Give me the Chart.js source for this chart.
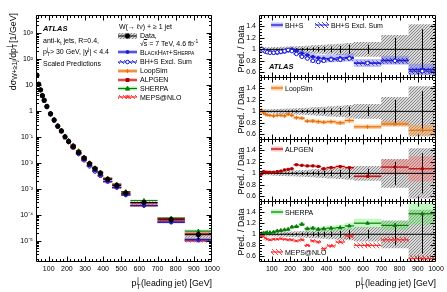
<!DOCTYPE html>
<html>
<head>
<meta charset="utf-8">
<script src="https://cdn.jsdelivr.net/npm/chart.js@4.4.1/dist/chart.umd.min.js"></script>
<style>
  html, body { margin: 0; padding: 0; background: #fff; }
  body { position: relative; width: 447px; height: 292px; overflow: hidden;
         font-family: "Liberation Sans", Arial, Helvetica, sans-serif; font-size: 7px; color: #000; }
  canvas { position: absolute; }
  .t { position: absolute; white-space: nowrap; line-height: 1; }
  .t sub, .t sup { font-size: 70%; line-height: 0; }
  .ttl { font-size: 8.8px; }
  .ttl sub, .ttl sup { font-size: 78%; }
  .vt { writing-mode: vertical-rl; transform: translate(-50%, -50%) rotate(180deg); }
  .atlas { font-weight: bold; font-style: italic; font-size: 7.5px; }
</style>
</head>
<body>
<canvas id="mainChart" width="220" height="292" style="left:0;top:0"></canvas>
<canvas id="ratio1" width="227" height="78" style="left:220px;top:0"></canvas>
<canvas id="ratio2" width="227" height="63" style="left:220px;top:77px"></canvas>
<canvas id="ratio3" width="227" height="63" style="left:220px;top:139px"></canvas>
<canvas id="ratio4" width="227" height="92" style="left:220px;top:201px"></canvas>

<!-- main panel texts -->
<div class="t atlas" style="left:43px;top:25px">ATLAS</div>
<div class="t" style="left:43px;top:37px">anti-k<sub>t</sub> jets, R=0.4,</div>
<div class="t" style="left:43px;top:48px">p<sub>T</sub><sup style="margin-left:-3px">j</sup> &gt; 30 GeV, |y<sup>j</sup>| &lt; 4.4</div>
<div class="t" style="left:43px;top:59.5px">Scaled Predictions</div>
<div class="t" style="left:119px;top:22.5px">W(→ ℓν) + ≥ 1 jet</div>
<div class="t" style="left:140px;top:31.5px">Data,</div>
<div class="t" style="left:140px;top:39.5px">√<span style="text-decoration:overline">s</span> = 7 TeV, 4.6 fb<sup>-1</sup></div>
<div class="t" style="left:140px;top:48.5px;font-variant:small-caps">BlackHat+Sherpa</div>
<div class="t" style="left:140px;top:58px">BH+S Excl. Sum</div>
<div class="t" style="left:140px;top:67px">LoopSim</div>
<div class="t" style="left:140px;top:76px">ALPGEN</div>
<div class="t" style="left:140px;top:85px">SHERPA</div>
<div class="t" style="left:140px;top:93.5px">MEPS@NLO</div>
<div class="t ttl" style="left:13px;top:13px;writing-mode:vertical-rl;transform:translateX(-50%) rotate(180deg)">dσ<sub>W+≥1j</sub>/dp<sub>T</sub><sup style="margin-top:-3px">j</sup> [1/GeV]</div>
<div class="t ttl" style="right:235px;top:279px">p<sub>T</sub><sup style="margin-left:-3.5px">j</sup> (leading jet) [GeV]</div>

<!-- ratio panel texts -->
<div class="t" style="left:285px;top:21.5px">BH+S</div>
<div class="t" style="left:331px;top:21.5px">BH+S Excl. Sum</div>
<div class="t atlas" style="left:269px;top:63px">ATLAS</div>
<div class="t" style="left:285px;top:84.5px">LoopSim</div>
<div class="t" style="left:285px;top:145.5px">ALPGEN</div>
<div class="t" style="left:285px;top:208.5px">SHERPA</div>
<div class="t" style="left:285px;top:248.5px">MEPS@NLO</div>
<div class="t ttl vt" style="left:240.5px;top:49px">Pred. / Data</div>
<div class="t ttl vt" style="left:240.5px;top:110px">Pred. / Data</div>
<div class="t ttl vt" style="left:240.5px;top:171px">Pred. / Data</div>
<div class="t ttl vt" style="left:240.5px;top:232px">Pred. / Data</div>
<div class="t ttl" style="right:11px;top:279px">p<sub>T</sub><sup style="margin-left:-3.5px">j</sup> (leading jet) [GeV]</div>

<script>
/* W + >= 1 jet, leading jet pT: cross section and ratios to data */

const FONT = '"Liberation Sans", Arial, Helvetica, sans-serif';
Chart.defaults.font.family = FONT;
Chart.defaults.font.size = 7;
Chart.defaults.color = "#000";

// bins and measured values
const binEdges = [30, 40, 50, 60, 70, 80, 100, 120, 140, 160, 180, 200, 220, 250, 280, 310, 340, 370, 400, 450, 500, 550, 700, 850, 1000];
const dataXsec = [24, 10.7, 6.5, 3.9, 2.6, 1.5, 0.78, 0.45, 0.26, 0.17, 0.10, 0.066, 0.042, 0.025, 0.015, 0.0091, 0.0059, 0.0040, 0.0023, 0.00134, 0.00068, 0.000295, 0.000064, 0.000017];
const dataStat = [0.003, 0.003, 0.004, 0.004, 0.005, 0.005, 0.006, 0.008, 0.01, 0.012, 0.015, 0.018, 0.02, 0.025, 0.03, 0.035, 0.04, 0.045, 0.05, 0.06, 0.08, 0.08, 0.2, 0.35];
const dataSyst = [0.04, 0.035, 0.035, 0.035, 0.035, 0.035, 0.04, 0.04, 0.045, 0.045, 0.05, 0.05, 0.055, 0.06, 0.065, 0.07, 0.075, 0.08, 0.09, 0.10, 0.11, 0.13, 0.25, 0.44];

// prediction / data
const ratioBHS = [1.00, 1.01, 0.99, 0.97, 0.96, 0.95, 0.94, 0.94, 0.95, 0.96, 0.98, 1.00, 0.97, 0.93, 0.90, 0.87, 0.85, 0.84, 0.84, 0.85, 0.86, 0.76, 0.81, 0.65];
const errBHS = [0.03, 0.03, 0.03, 0.03, 0.03, 0.035, 0.035, 0.04, 0.04, 0.04, 0.045, 0.05, 0.05, 0.05, 0.055, 0.06, 0.06, 0.065, 0.065, 0.07, 0.07, 0.07, 0.08, 0.1];
const ratioExcl = [1.00, 1.01, 0.98, 0.96, 0.95, 0.94, 0.94, 0.95, 0.96, 0.97, 0.99, 0.97, 0.92, 0.87, 0.84, 0.80, 0.78, 0.80, 0.82, 0.82, 0.84, 0.76, 0.80, 0.62];
const errExcl = [0.015, 0.015, 0.015, 0.015, 0.015, 0.02, 0.02, 0.02, 0.02, 0.02, 0.025, 0.025, 0.025, 0.03, 0.03, 0.03, 0.03, 0.035, 0.035, 0.035, 0.04, 0.045, 0.05, 0.06];
const ratioLoopSim = [1.00, 1.02, 0.97, 0.95, 0.94, 0.93, 0.92, 0.93, 0.93, 0.92, 0.95, 0.93, 0.89, 0.88, 0.83, 0.83, 0.82, 0.81, 0.82, 0.80, 0.84, 0.73, 0.78, 0.67];
const errLoopSim = [0.02, 0.02, 0.02, 0.02, 0.02, 0.02, 0.025, 0.025, 0.025, 0.025, 0.03, 0.03, 0.03, 0.03, 0.03, 0.035, 0.035, 0.035, 0.035, 0.04, 0.04, 0.04, 0.05, 0.09];
const ratioAlpgen = [0.96, 0.99, 1.03, 1.02, 1.02, 1.02, 1.02, 1.03, 1.04, 1.06, 1.07, 1.08, 1.15, 1.14, 1.13, 1.13, 1.12, 1.08, 1.10, 1.12, 1.10, 0.95, 1.11, 1.08];
const errAlpgen = [0.02, 0.02, 0.02, 0.02, 0.02, 0.02, 0.02, 0.02, 0.02, 0.02, 0.02, 0.02, 0.02, 0.02, 0.025, 0.025, 0.025, 0.03, 0.03, 0.03, 0.03, 0.03, 0.13, 0.22];
const ratioSherpa = [0.98, 1.01, 1.02, 1.02, 1.03, 1.03, 1.04, 1.06, 1.07, 1.08, 1.09, 1.13, 1.14, 1.18, 1.10, 1.11, 1.09, 1.10, 1.11, 1.12, 1.15, 1.20, 1.16, 1.37];
const errSherpa = [0.02, 0.02, 0.02, 0.02, 0.02, 0.02, 0.02, 0.025, 0.025, 0.025, 0.03, 0.03, 0.03, 0.035, 0.035, 0.04, 0.04, 0.045, 0.05, 0.05, 0.06, 0.08, 0.08, 0.2];
const ratioMeps = [0.97, 0.97, 0.96, 0.93, 0.91, 0.90, 0.91, 0.91, 0.92, 0.91, 0.90, 0.90, 0.88, 0.90, 0.80, 0.88, 0.86, 0.74, 0.79, 0.86, 0.97, 0.80, 0.90, 0.56];
const errMeps = [0.02, 0.02, 0.02, 0.02, 0.02, 0.02, 0.02, 0.02, 0.02, 0.02, 0.025, 0.025, 0.025, 0.03, 0.03, 0.03, 0.03, 0.035, 0.035, 0.04, 0.05, 0.05, 0.05, 0.06];

// axis ticks
const xTickValues = [100, 200, 300, 400, 500, 600, 700, 800, 900, 1000];
const yLogTicks = [1e-5, 1e-4, 1e-3, 1e-2, 1e-1, 1, 10, 100, 1000];
const yLogLabels = ["10⁻⁵", "10⁻⁴", "10⁻³", "10⁻²", "10⁻¹", "1", "10", "10²", "10³"];
const ratioTicks = [0.6, 0.8, 1, 1.2, 1.4];

const centers = binEdges.slice(0, -1).map((e, i) => (e + binEdges[i + 1]) / 2);

function hatch(line, bg, down, size) {
  const s = size || 4;
  const c = document.createElement("canvas");
  c.width = s; c.height = s;
  const g = c.getContext("2d");
  if (bg) { g.fillStyle = bg; g.fillRect(0, 0, s, s); }
  g.strokeStyle = line; g.lineWidth = 0.9;
  g.beginPath();
  if (down) {
    g.moveTo(-1, -1); g.lineTo(s + 1, s + 1);
    g.moveTo(-1, s - 1); g.lineTo(1, s + 1);
    g.moveTo(s - 1, -1); g.lineTo(s + 1, 1);
  } else {
    g.moveTo(-1, s + 1); g.lineTo(s + 1, -1);
    g.moveTo(-1, 1); g.lineTo(1, -1);
    g.moveTo(s - 1, s + 1); g.lineTo(s + 1, s - 1);
  }
  g.stroke();
  return g.createPattern(c, "repeat");
}

const colors = {
  data: "#000",
  bhs: "#1a1ad0", bhsBand: "rgba(120,120,255,0.45)",
  loop: "#e0700e", loopBand: "rgba(255,160,70,0.5)",
  alp: "#b00000", alpBand: "rgba(255,110,110,0.4)",
  sh: "#0b7a0b", shBand: "rgba(90,240,90,0.38)",
  meps: "#ff2424"
};
const grayHatch = hatch("rgba(110,110,110,0.85)", "rgba(205,205,205,0.75)", false, 3);
const exclHatch = hatch("rgba(30,30,210,0.9)", null, true, 4);
const mepsHatch = hatch("rgba(255,30,30,0.9)", null, true, 4);

const preds = {
  bhs:  { ratio: ratioBHS, err: errBHS, color: colors.bhs, fill: colors.bhs, style: "circle", radius: 1.5, band: colors.bhsBand, lw: 1.3 },
  excl: { ratio: ratioExcl, err: errExcl, color: colors.bhs, fill: "#fff", style: "circle", radius: 1.8, band: exclHatch, lw: 1 },
  loop: { ratio: ratioLoopSim, err: errLoopSim, color: colors.loop, fill: colors.loop, style: "cross", radius: 2, band: colors.loopBand, lw: 1.2 },
  alp:  { ratio: ratioAlpgen, err: errAlpgen, color: colors.alp, fill: colors.alp, style: "rect", radius: 1.5, band: colors.alpBand, lw: 1.2 },
  sh:   { ratio: ratioSherpa, err: errSherpa, color: colors.sh, fill: colors.sh, style: "triangle", radius: 2, band: colors.shBand, lw: 1.2 },
  meps: { ratio: ratioMeps, err: errMeps, color: colors.meps, fill: colors.meps, style: "crossRot", radius: 2, band: mepsHatch, lw: 1.2 }
};

// step outline over the bins
function steps(vals) {
  const pts = [];
  vals.forEach((v, i) => { pts.push({ x: binEdges[i], y: v }, { x: binEdges[i + 1], y: v }); });
  return pts;
}

function band(lo, hi, fill, order) {
  return [
    { data: steps(hi), borderColor: "transparent", borderWidth: 0, pointRadius: 0, fill: false, order },
    { data: steps(lo), borderColor: "transparent", borderWidth: 0, pointRadius: 0, fill: "-1", backgroundColor: fill, order }
  ];
}

function markerSet(vals, st, order, err, horiz) {
  return {
    data: vals.map((v, i) => ({ x: centers[i], y: v })),
    showLine: false, order,
    pointStyle: st.style, pointRadius: st.radius, pointBorderWidth: 1,
    pointBackgroundColor: st.fill, pointBorderColor: st.color,
    bins: { color: st.color, width: st.lw || 1, err, horiz: horiz !== false }
  };
}

// horizontal bin bars and vertical (relative) error bars
const binBars = {
  id: "binBars",
  beforeDatasetDraw(chart, args) {
    const ds = chart.data.datasets[args.index];
    if (!ds.bins) return;
    const { ctx, chartArea: a, scales: { x, y } } = chart;
    ctx.save();
    ctx.beginPath(); ctx.rect(a.left, a.top, a.width, a.height); ctx.clip();
    ctx.strokeStyle = ds.bins.color; ctx.lineWidth = ds.bins.width;
    ds.data.forEach((p, i) => {
      const py = y.getPixelForValue(p.y);
      ctx.beginPath();
      if (ds.bins.horiz) {
        ctx.moveTo(x.getPixelForValue(binEdges[i]), py);
        ctx.lineTo(x.getPixelForValue(binEdges[i + 1]), py);
      }
      if (ds.bins.err) {
        const px = Math.round(x.getPixelForValue(p.x)) + 0.5;
        ctx.moveTo(px, y.getPixelForValue(p.y * (1 + ds.bins.err[i])));
        ctx.lineTo(px, y.getPixelForValue(p.y * (1 - ds.bins.err[i])));
      }
      ctx.stroke();
    });
    ctx.restore();
  }
};

// frame with inward ticks on all sides
const frameTicks = {
  id: "frameTicks",
  afterDatasetsDraw(chart, args, opts) {
    const { ctx, chartArea: a, scales: { x, y } } = chart;
    const L = a.left + 0.5, R = a.right - 0.5, T = a.top + 0.5, B = a.bottom - 0.5;
    ctx.save();
    ctx.strokeStyle = "#000"; ctx.lineWidth = 1;
    ctx.beginPath();
    ctx.rect(L, T, R - L, B - T);
    for (let v = 40; v < 1000; v += 20) {
      const px = Math.round(x.getPixelForValue(v)) + 0.5;
      const len = v % 100 === 0 ? 5 : 2.5;
      ctx.moveTo(px, B); ctx.lineTo(px, B - len);
      ctx.moveTo(px, T); ctx.lineTo(px, T + len);
    }
    const yv = [];
    if (opts.kind === "log") {
      for (let e = -6; e <= 3; e++) for (let m = 1; m <= 9; m++) yv.push([m * Math.pow(10, e), m === 1]);
    } else {
      for (let k = 11; k <= 31; k++) yv.push([k * 0.05, k % 4 === 0]);
    }
    yv.forEach(([v, major]) => {
      if (v < y.min || v > y.max) return;
      const py = Math.round(y.getPixelForValue(v)) + 0.5;
      const len = major ? 5 : 2.5;
      ctx.moveTo(L, py); ctx.lineTo(L + len, py);
      ctx.moveTo(R, py); ctx.lineTo(R - len, py);
    });
    ctx.stroke();
    ctx.restore();
  }
};

function drawMarker(ctx, st, x, y) {
  const r = st.radius;
  ctx.fillStyle = st.fill || st.color; ctx.strokeStyle = st.color; ctx.lineWidth = 1;
  ctx.beginPath();
  if (st.style === "circle") { ctx.arc(x, y, r, 0, 2 * Math.PI); ctx.fill(); ctx.stroke(); }
  else if (st.style === "rect") { ctx.rect(x - r, y - r, 2 * r, 2 * r); ctx.fill(); ctx.stroke(); }
  else if (st.style === "triangle") { ctx.moveTo(x, y - r * 1.2); ctx.lineTo(x + r, y + r * 0.8); ctx.lineTo(x - r, y + r * 0.8); ctx.closePath(); ctx.fill(); ctx.stroke(); }
  else if (st.style === "cross") { ctx.moveTo(x - r, y); ctx.lineTo(x + r, y); ctx.moveTo(x, y - r); ctx.lineTo(x, y + r); ctx.stroke(); }
  else if (st.style === "crossRot") { ctx.moveTo(x - r, y - r); ctx.lineTo(x + r, y + r); ctx.moveTo(x - r, y + r); ctx.lineTo(x + r, y - r); ctx.stroke(); }
}

// legend boxes: band, line, marker
const legendSymbols = {
  id: "legendSymbols",
  afterDraw(chart, args, opts) {
    const ctx = chart.ctx;
    (opts.items || []).forEach(it => {
      ctx.save();
      if (it.band) { ctx.fillStyle = it.band; ctx.fillRect(it.x0, it.y - it.h / 2, it.x1 - it.x0, it.h); }
      if (it.st) {
        ctx.strokeStyle = it.st.color; ctx.lineWidth = it.st.lw || 1;
        ctx.beginPath(); ctx.moveTo(it.x0, it.y); ctx.lineTo(it.x1, it.y); ctx.stroke();
        if (it.marker) drawMarker(ctx, it.st, (it.x0 + it.x1) / 2, it.y);
      }
      ctx.restore();
    });
  }
};

function xScale(show, h) {
  return {
    type: "linear", min: 30, max: 1000, display: show,
    grid: { display: false, drawTicks: false }, border: { display: false },
    ticks: { padding: 3, maxRotation: 0, autoSkip: false, callback: v => String(v) },
    afterBuildTicks: s => { s.ticks = xTickValues.map(v => ({ value: v })); },
    afterFit: s => { s.height = h; s.paddingLeft = 0; s.paddingRight = 0; }
  };
}

// y labels: tiny line height so the axis asks for no extra top/bottom room
function yScale(extra, width) {
  return Object.assign({
    grid: { display: false, drawTicks: true, tickLength: 3 }, border: { display: false },
    afterFit: s => { s.width = width; s.paddingTop = 0; s.paddingBottom = 0; }
  }, extra, {
    ticks: Object.assign({ padding: 0, autoSkip: false, font: { size: 7, lineHeight: 0.01 } }, extra.ticks)
  });
}

function baseOptions(padTop, padRight, scales, plugins) {
  return {
    responsive: false, animation: false, devicePixelRatio: 1, events: [],
    layout: { autoPadding: false, padding: { top: padTop, right: padRight, left: 0, bottom: 0 } },
    plugins: Object.assign({ legend: { display: false }, tooltip: { enabled: false } }, plugins),
    scales
  };
}

// ---- main cross-section panel ----
const mainSets = band(dataXsec.map((v, i) => v * (1 - dataSyst[i])), dataXsec.map((v, i) => v * (1 + dataSyst[i])), grayHatch, 30);
["bhs", "excl", "loop", "alp", "sh", "meps"].forEach(k => {
  const p = preds[k];
  mainSets.push(...band(dataXsec.map((v, i) => v * (p.ratio[i] - p.err[i])), dataXsec.map((v, i) => v * (p.ratio[i] + p.err[i])), p.band, 20));
  mainSets.push(markerSet(dataXsec.map((v, i) => v * p.ratio[i]), Object.assign({}, p, { lw: 1 }), 5));
});
const dataStyle = { color: colors.data, fill: colors.data, style: "circle", radius: 2.2, lw: 1 };
mainSets.push(markerSet(dataXsec, dataStyle, 0, dataStat));

new Chart(document.getElementById("mainChart"), {
  type: "line",
  data: { datasets: mainSets },
  options: baseOptions(15, 8, {
    x: xScale(true, 30),
    y: yScale({
      type: "logarithmic", min: 1.5e-6, max: 5000,
      ticks: { callback: (v, i) => yLogLabels[i] },
      afterBuildTicks: s => { s.ticks = yLogTicks.map(v => ({ value: v })); }
    }, 36)
  }, {
    frameTicks: { kind: "log" },
    legendSymbols: { items: [
      { x0: 118, x1: 137, y: 36, h: 6, band: grayHatch, st: dataStyle, marker: true },
      { x0: 118, x1: 137, y: 52, h: 4, band: preds.bhs.band, st: preds.bhs, marker: true },
      { x0: 118, x1: 137, y: 62, h: 4, band: preds.excl.band, st: preds.excl, marker: true },
      { x0: 118, x1: 137, y: 71, h: 4, band: preds.loop.band, st: preds.loop, marker: true },
      { x0: 118, x1: 137, y: 80, h: 4, band: preds.alp.band, st: preds.alp, marker: true },
      { x0: 118, x1: 137, y: 88.5, h: 4, band: preds.sh.band, st: preds.sh, marker: true },
      { x0: 118, x1: 137, y: 97, h: 4, band: preds.meps.band, st: preds.meps, marker: true }
    ] }
  }),
  plugins: [binBars, frameTicks, legendSymbols]
});

// ---- ratio panels ----
function ratioPanel(id, keys, padTop, xh, legendItems) {
  const sets = band(dataSyst.map(s => 1 - s), dataSyst.map(s => 1 + s), grayHatch, 50);
  keys.forEach((k, j) => {
    const p = preds[k];
    sets.push(...band(p.ratio.map((r, i) => r - p.err[i]), p.ratio.map((r, i) => r + p.err[i]), p.band, 40 - j));
  });
  sets.push({ data: [{ x: 30, y: 1 }, { x: 1000, y: 1 }], borderColor: "#000", borderWidth: 1, pointRadius: 0, fill: false, order: 20 });
  sets.push(markerSet(dataSyst.map(() => 1), { color: "#000", fill: "#000", style: "circle", radius: 0, lw: 1 }, 19, dataStat, false));
  keys.forEach((k, j) => sets.push(markerSet(preds[k].ratio, preds[k], 5 - j)));

  new Chart(document.getElementById(id), {
    type: "line",
    data: { datasets: sets },
    options: baseOptions(padTop, 11, {
      x: xScale(xh > 0, xh),
      y: yScale({
        type: "linear", min: 0.5, max: 1.6,
        ticks: { callback: v => String(v) },
        afterBuildTicks: s => { s.ticks = ratioTicks.map(v => ({ value: v })); }
      }, 39)
    }, { frameTicks: { kind: "ratio" }, legendSymbols: { items: legendItems } }),
    plugins: [binBars, frameTicks, legendSymbols]
  });
}

ratioPanel("ratio1", ["bhs", "excl"], 15, 0, [
  { x0: 51, x1: 63, y: 25, h: 5, band: preds.bhs.band, st: preds.bhs },
  { x0: 95, x1: 109, y: 25, h: 6, band: exclHatch, st: preds.excl }
]);
ratioPanel("ratio2", ["loop"], 0, 0, [
  { x0: 51, x1: 63, y: 11, h: 5, band: preds.loop.band, st: preds.loop }
]);
ratioPanel("ratio3", ["alp"], 0, 0, [
  { x0: 51, x1: 63, y: 10, h: 5, band: preds.alp.band, st: preds.alp }
]);
ratioPanel("ratio4", ["sh", "meps"], 0, 31, [
  { x0: 51, x1: 63, y: 11, h: 5, band: preds.sh.band, st: preds.sh },
  { x0: 51, x1: 63, y: 51, h: 6, band: mepsHatch, st: preds.meps }
]);
</script>
</body>
</html>
